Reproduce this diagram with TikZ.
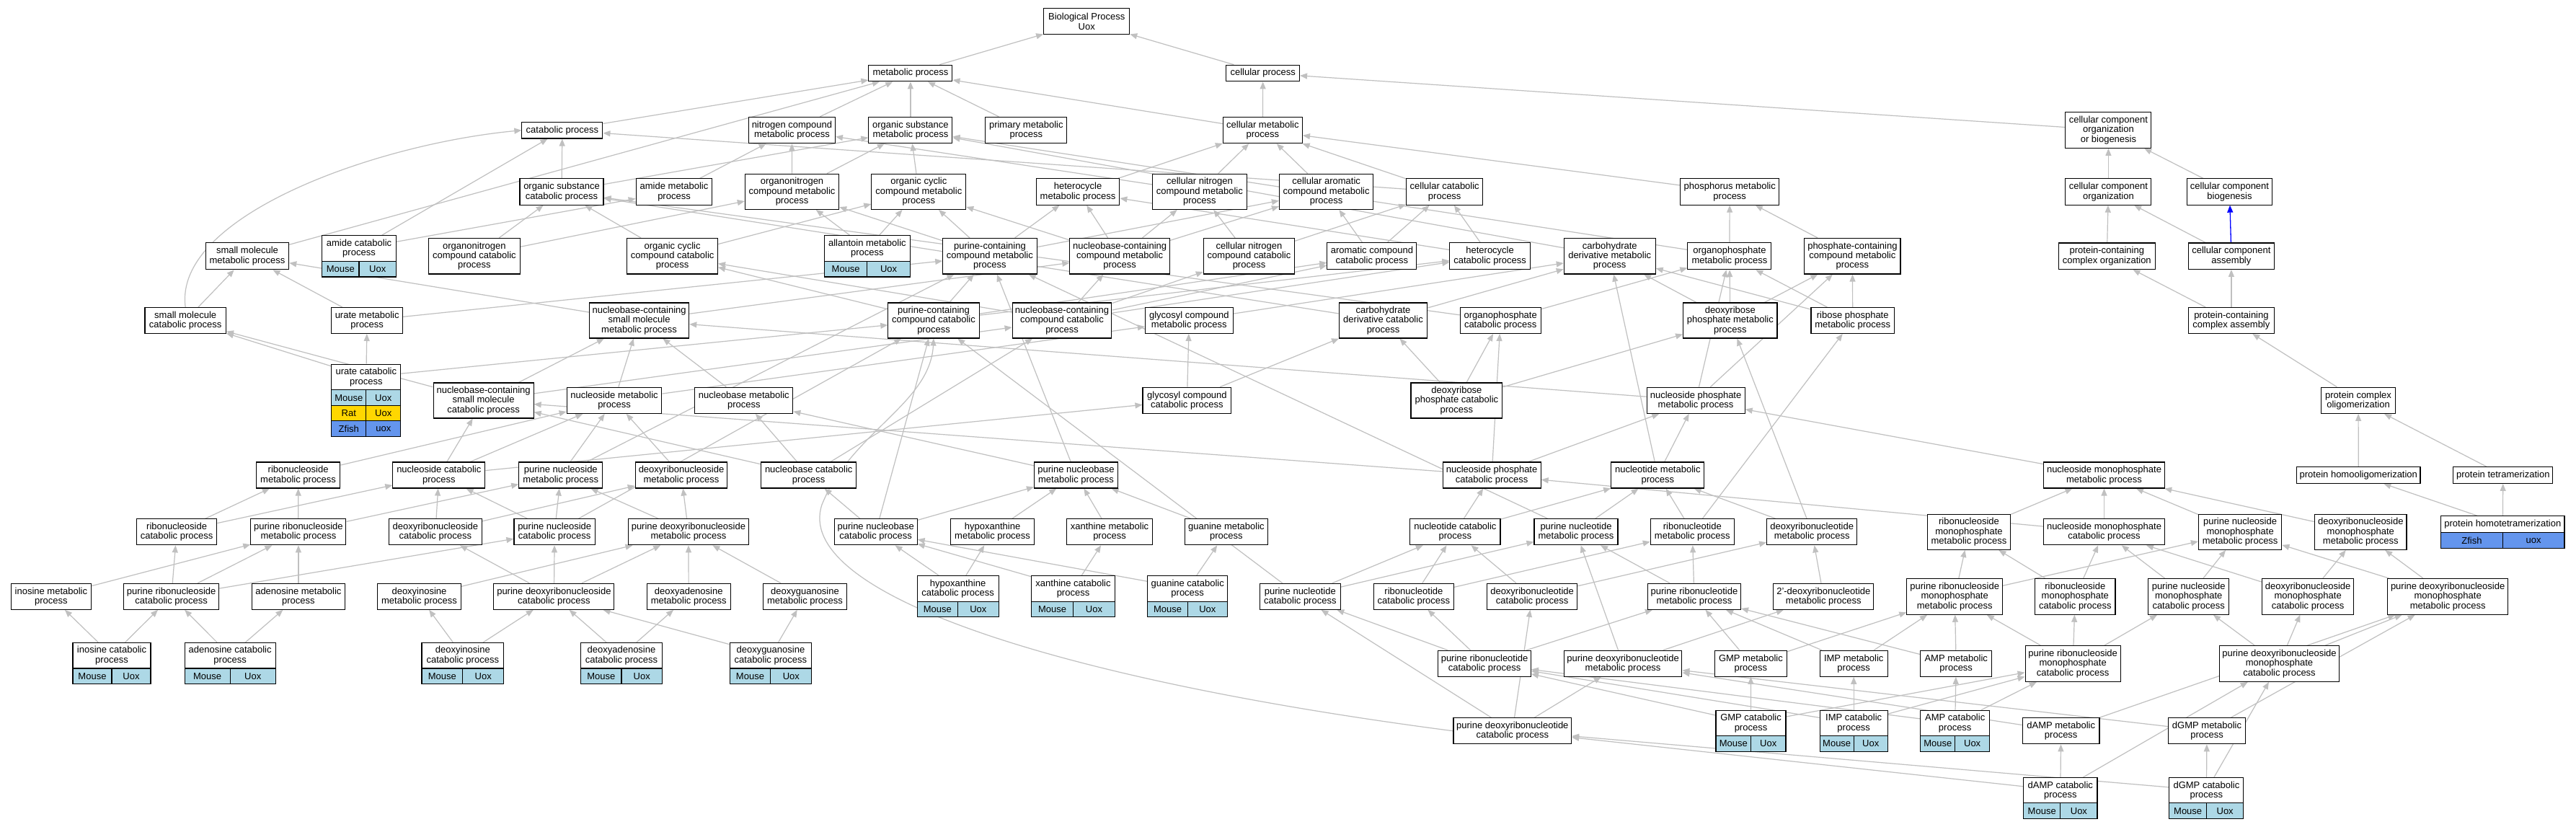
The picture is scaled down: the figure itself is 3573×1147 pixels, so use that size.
\documentclass[tikz,border=0pt]{standalone}
\usepackage{fontspec}
\setmainfont{Liberation Sans}
\usetikzlibrary{arrows.meta}
\pgfdeclarelayer{bg}
\pgfsetlayers{bg,main}
\newcommand\gofont{\fontsize{13}{13.3}\selectfont}
\definecolor{edgegray}{HTML}{C0C0C0}
\definecolor{mouseblue}{HTML}{ADD8E6}
\definecolor{ratgold}{HTML}{FFD700}
\definecolor{fishblue}{HTML}{6495ED}
\tikzset{
  gbox/.style={draw=black,line width=1.1pt,fill=white,font=\gofont,align=center,inner sep=0pt},
  cell/.style={draw=black,line width=1.1pt,font=\gofont,inner sep=0pt,minimum height=21.4pt},
  edge/.style={draw=edgegray,line width=1.2pt,-{Triangle[length=10pt,width=8pt]}},
  blueedge/.style={draw=blue,line width=1.3pt,-{Triangle[length=10pt,width=8pt]}}
}
\newcommand\gn[6]{\node[gbox,minimum width=#4pt,minimum height=#5pt] (#1) at (#2,#3) {#6};}
\newcommand\grow[7]{%
\node[cell,fill=#5,minimum width={#4*0.5pt}] (#1l) at ({#2-#4/4},{#3+10.7}) {#6};
\node[cell,fill=#5,minimum width={#4*0.5pt}] (#1r) at ({#2+#4/4},{#3+10.7}) {#7};}
\begin{document}
\begin{tikzpicture}[x=1pt,y=-1pt]
\useasboundingbox (0,0) rectangle (3573,1147);
% rank 0-1
\gn{bp}{1507.2}{29.8}{119}{36}{Biological Process\\Uox}
\gn{met}{1262.9}{101.5}{116}{22.6}{metabolic process}
\gn{cellp}{1751.7}{101.5}{101.6}{22.6}{cellular process}
% rank 2
\gn{cat}{779.9}{180.7}{112}{22.6}{catabolic process}
\gn{ncm}{1098.4}{180.5}{120}{36.3}{nitrogen compound\\metabolic process}
\gn{osm}{1262.9}{180.5}{116}{36.3}{organic substance\\metabolic process}
\gn{pm}{1423.3}{180.5}{113}{36.3}{primary metabolic\\process}
\gn{cm}{1751.4}{180.5}{110}{36.3}{cellular metabolic\\process}
\gn{ccob}{2924.4}{180.5}{119}{49.6}{cellular component\\organization\\or biogenesis}
% rank 3
\gn{osc}{779}{266}{116}{36.3}{organic substance\\catabolic process}
\gn{amm}{935}{266}{105.6}{36.3}{amide metabolic\\process}
\gn{onm}{1098.5}{265.8}{130.3}{49.2}{organonitrogen\\compound metabolic\\process}
\gn{occm}{1274.3}{265.8}{130.9}{49.2}{organic cyclic\\compound metabolic\\process}
\gn{hetm}{1495.1}{266}{115.4}{36.3}{heterocycle\\metabolic process}
\gn{cncm}{1663.9}{265.8}{130.3}{49.2}{cellular nitrogen\\compound metabolic\\process}
\gn{cacm}{1839.6}{265.8}{130.3}{49.2}{cellular aromatic\\compound metabolic\\process}
\gn{ccat}{2003.7}{266}{106.2}{36.3}{cellular catabolic\\process}
\gn{phm}{2399.2}{266}{137.2}{36.3}{phosphorus metabolic\\process}
\gn{cco}{2924.4}{266}{119}{36.3}{cellular component\\organization}
\gn{ccb}{3092.5}{266}{118.4}{36.3}{cellular component\\biogenesis}
% rank 4
\gn{smm}{343}{355.2}{115.4}{37}{small molecule\\metabolic process}
\gn{amc}{498}{344.6}{102.8}{35.9}{amide catabolic\\process}
\grow{amcA}{498}{362.6}{102.8}{mouseblue}{Mouse}{Uox}
\gn{onc}{657.9}{355.2}{126.3}{49.6}{organonitrogen\\compound catabolic\\process}
\gn{occc}{932.6}{355.2}{125.7}{49.6}{organic cyclic\\compound catabolic\\process}
\gn{allm}{1202.9}{344.6}{118.8}{35.9}{allantoin metabolic\\process}
\grow{allmA}{1202.9}{362.6}{118.8}{mouseblue}{Mouse}{Uox}
\gn{pccm}{1372.9}{355.2}{130.3}{49.6}{purine-containing\\compound metabolic\\process}
\gn{nbcm}{1553.1}{355.2}{138.4}{49.6}{nucleobase-containing\\compound metabolic\\process}
\gn{cncc}{1732.5}{355.2}{126.3}{49.6}{cellular nitrogen\\compound catabolic\\process}
\gn{acc}{1902.9}{355.2}{124}{37}{aromatic compound\\catabolic process}
\gn{hetc}{2066.6}{355.2}{111.4}{37}{heterocycle\\catabolic process}
\gn{cdm}{2232.7}{355.2}{126.9}{49.6}{carbohydrate\\derivative metabolic\\process}
\gn{opm}{2398.9}{355.2}{116}{37}{organophosphate\\metabolic process}
\gn{pcm}{2569.4}{355.2}{133.2}{49.6}{phosphate-containing\\compound metabolic\\process}
\gn{pcco}{2922.3}{355.2}{133.9}{36.3}{protein-containing\\complex organization}
\gn{cca}{3094.9}{355.2}{118.4}{36.3}{cellular component\\assembly}
% rank 5
\gn{smc}{257.2}{444.5}{112.5}{35.9}{small molecule\\catabolic process}
\gn{urm}{509.2}{444.5}{98.7}{35.9}{urate metabolic\\process}
\gn{nbsmm}{886.6}{444.5}{138.3}{49}{nucleobase-containing\\small molecule\\metabolic process}
\gn{pccc}{1295}{444.5}{126.3}{49}{purine-containing\\compound catabolic\\process}
\gn{nbcc}{1473}{444.5}{137.8}{49}{nucleobase-containing\\compound catabolic\\process}
\gn{gcm}{1649.3}{444.5}{121.7}{35.9}{glycosyl compound\\metabolic process}
\gn{cdc}{1918.5}{444.5}{122.8}{49}{carbohydrate\\derivative catabolic\\process}
\gn{opc}{2081.2}{444.5}{112}{35.9}{organophosphate\\catabolic process}
\gn{drpm}{2399.8}{444.5}{130.3}{49}{deoxyribose\\phosphate metabolic\\process}
\gn{rpm}{2569.7}{444.5}{115.4}{35.9}{ribose phosphate\\metabolic process}
\gn{pcca}{3094.9}{444.5}{118.4}{35.9}{protein-containing\\complex assembly}
% rank 6
\gn{urc}{507.8}{523}{95.9}{35.9}{urate catabolic\\process}
\grow{urcA}{507.8}{540.9}{95.9}{mouseblue}{Mouse}{Uox}
\grow{urcB}{507.8}{562.4}{95.9}{ratgold}{Rat}{Uox}
\grow{urcC}{507.8}{583.9}{95.9}{fishblue}{Zfish}{uox}
\gn{nbsmc}{670.6}{555.5}{139}{49}{nucleobase-containing\\small molecule\\catabolic process}
\gn{nsm}{852}{555.3}{131.6}{36.2}{nucleoside metabolic\\process}
\gn{nbm}{1031.8}{555.3}{136}{36.2}{nucleobase metabolic\\process}
\gn{gcc}{1646.4}{555.3}{122.8}{36.2}{glycosyl compound\\catabolic process}
\gn{drpc}{2020.4}{555.5}{126.9}{49}{deoxyribose\\phosphate catabolic\\process}
\gn{npm}{2352.1}{555.3}{136}{36.2}{nucleoside phosphate\\metabolic process}
\gn{pco}{3271}{555.3}{103}{36.2}{protein complex\\oligomerization}
% rank 7
\gn{rnsm}{413.6}{659}{116.5}{36}{ribonucleoside\\metabolic process}
\gn{nsc}{608.8}{659}{128}{36}{nucleoside catabolic\\process}
\gn{pnsm}{777.8}{659}{116}{36}{purine nucleoside\\metabolic process}
\gn{dnsm}{945}{659}{127.5}{36}{deoxyribonucleoside\\metabolic process}
\gn{nbc}{1121.7}{659}{132}{36}{nucleobase catabolic\\process}
\gn{pnbm}{1492.5}{659}{116}{36}{purine nucleobase\\metabolic process}
\gn{npc}{2069.1}{659}{136}{36}{nucleoside phosphate\\catabolic process}
\gn{ntm}{2299.3}{659}{129.2}{36}{nucleotide metabolic\\process}
\gn{nmpm}{2918.5}{659}{167.8}{36}{nucleoside monophosphate\\metabolic process}
\gn{phom}{3271.3}{659}{171.4}{22.8}{protein homooligomerization}
\gn{ptet}{3471.8}{659}{138}{22.8}{protein tetramerization}
% rank 8
\gn{rnsc}{245.1}{737.8}{111.4}{36}{ribonucleoside\\catabolic process}
\gn{prnsm}{413.9}{737.8}{132}{36}{purine ribonucleoside\\metabolic process}
\gn{dnsc}{603.9}{737.8}{128.6}{36}{deoxyribonucleoside\\catabolic process}
\gn{pnsc}{769.2}{737.8}{112.5}{36}{purine nucleoside\\catabolic process}
\gn{pdnsm}{954.9}{737.8}{167}{36}{purine deoxyribonucleoside\\metabolic process}
\gn{pnbc}{1214.7}{737.8}{114.8}{36}{purine nucleobase\\catabolic process}
\gn{hxm}{1376.6}{737.8}{116}{36}{hypoxanthine\\metabolic process}
\gn{xm}{1539}{737.8}{118.3}{36}{xanthine metabolic\\process}
\gn{gm}{1700.9}{737.8}{114.8}{36}{guanine metabolic\\process}
\gn{ntc}{2018.4}{737.8}{125.1}{36}{nucleotide catabolic\\process}
\gn{pntm}{2186}{737.8}{116}{36}{purine nucleotide\\metabolic process}
\gn{rntm}{2347.3}{737.8}{116}{36}{ribonucleotide\\metabolic process}
\gn{dntm}{2513.2}{737.8}{125.1}{36}{deoxyribonucleotide\\metabolic process}
\gn{rnmpm}{2731}{737.8}{115.4}{49.3}{ribonucleoside\\monophosphate\\metabolic process}
\gn{nmpc}{2918.5}{737.8}{167.8}{36}{nucleoside monophosphate\\catabolic process}
\gn{pnmpm}{3107.1}{737.8}{115.4}{49.3}{purine nucleoside\\monophosphate\\metabolic process}
\gn{dnmpm}{3274.3}{737.8}{127.3}{49.3}{deoxyribonucleoside\\monophosphate\\metabolic process}
\gn{phtet}{3471.3}{727.3}{171.4}{23.2}{protein homotetramerization}
\grow{phtetA}{3471.3}{738.9}{171.4}{fishblue}{Zfish}{uox}
% rank 9
\gn{inom}{70.9}{827.3}{110.8}{36}{inosine metabolic\\process}
\gn{prnsc}{237.7}{827.3}{132}{36}{purine ribonucleoside\\catabolic process}
\gn{adom}{413.9}{827.3}{129.7}{36}{adenosine metabolic\\process}
\gn{dinom}{581.5}{827.3}{116}{36}{deoxyinosine\\metabolic process}
\gn{pdnsc}{768.4}{827.3}{167}{36}{purine deoxyribonucleoside\\catabolic process}
\gn{dadom}{955.2}{827.3}{116}{36}{deoxyadenosine\\metabolic process}
\gn{dguom}{1116.5}{827.3}{116}{36}{deoxyguanosine\\metabolic process}
\gn{hxc}{1328.6}{816.4}{113}{35.7}{hypoxanthine\\catabolic process}
\grow{hxcA}{1328.6}{834.2}{113}{mouseblue}{Mouse}{Uox}
\gn{xc}{1488.5}{816.4}{116}{35.7}{xanthine catabolic\\process}
\grow{xcA}{1488.5}{834.2}{116}{mouseblue}{Mouse}{Uox}
\gn{gc}{1647.2}{816.4}{110.8}{35.7}{guanine catabolic\\process}
\grow{gcA}{1647.2}{834.2}{110.8}{mouseblue}{Mouse}{Uox}
\gn{pntc}{1803.3}{827.3}{112}{36}{purine nucleotide\\catabolic process}
\gn{rntc}{1960.9}{827.3}{111.4}{36}{ribonucleotide\\catabolic process}
\gn{dntc}{2125.1}{827.3}{125.1}{36}{deoxyribonucleotide\\catabolic process}
\gn{prntm}{2349.9}{827.3}{129.2}{36}{purine ribonucleotide\\metabolic process}
\gn{dtwontm}{2529.3}{827.3}{138.9}{36}{2{\char"0027}-deoxyribonucleotide\\metabolic process}
\gn{prnmpm}{2711.2}{827.4}{132.7}{49.6}{purine ribonucleoside\\monophosphate\\metabolic process}
\gn{rnmpc}{2878.3}{827.4}{111.3}{49.6}{ribonucleoside\\monophosphate\\catabolic process}
\gn{pnmpc}{3035.7}{827.4}{111.8}{49.6}{purine nucleoside\\monophosphate\\catabolic process}
\gn{dnmpc}{3201.1}{827.4}{127.3}{49.6}{deoxyribonucleoside\\monophosphate\\catabolic process}
\gn{pdnmpm}{3395.1}{827.4}{166.6}{49.6}{purine deoxyribonucleoside\\monophosphate\\metabolic process}
% rank 10
\gn{inoc}{155}{909.2}{108}{35.7}{inosine catabolic\\process}
\grow{inocA}{155}{927}{108}{mouseblue}{Mouse}{Uox}
\gn{adoc}{319.2}{909.2}{126.3}{35.7}{adenosine catabolic\\process}
\grow{adocA}{319.2}{927}{126.3}{mouseblue}{Mouse}{Uox}
\gn{dinoc}{641.8}{909.2}{113.6}{35.7}{deoxyinosine\\catabolic process}
\grow{dinocA}{641.8}{927}{113.6}{mouseblue}{Mouse}{Uox}
\gn{dadoc}{862}{909.2}{113}{35.7}{deoxyadenosine\\catabolic process}
\grow{dadocA}{862}{927}{113}{mouseblue}{Mouse}{Uox}
\gn{dguoc}{1068.9}{909.2}{113.7}{35.7}{deoxyguanosine\\catabolic process}
\grow{dguocA}{1068.9}{927}{113.7}{mouseblue}{Mouse}{Uox}
\gn{prntc}{2059.1}{920.3}{128.6}{36}{purine ribonucleotide\\catabolic process}
\gn{pdntm}{2251.1}{920.3}{163.6}{36}{purine deoxyribonucleotide\\metabolic process}
\gn{gmpm}{2428.4}{920.3}{99.3}{36}{GMP metabolic\\process}
\gn{impm}{2571.2}{920.3}{94.1}{36}{IMP metabolic\\process}
\gn{ampm}{2713.2}{920.3}{98.8}{36}{AMP metabolic\\process}
\gn{prnmpc}{2875.1}{920.5}{132.1}{49.7}{purine ribonucleoside\\monophosphate\\catabolic process}
\gn{pdnmpc}{3161.5}{920.5}{166}{49.7}{purine deoxyribonucleoside\\monophosphate\\catabolic process}
% rank 11
\gn{pdntc}{2097.8}{1013.8}{163.6}{36}{purine deoxyribonucleotide\\catabolic process}
\gn{gmpc}{2428.5}{1003}{97}{35.7}{GMP catabolic\\process}
\grow{gmpcA}{2428.5}{1020.8}{97}{mouseblue}{Mouse}{Uox}
\gn{impc}{2571.2}{1003}{94.1}{35.7}{IMP catabolic\\process}
\grow{impcA}{2571.2}{1020.8}{94.1}{mouseblue}{Mouse}{Uox}
\gn{ampc}{2711.7}{1003}{95.8}{35.7}{AMP catabolic\\process}
\grow{ampcA}{2711.7}{1020.8}{95.8}{mouseblue}{Mouse}{Uox}
\gn{dampm}{2858.7}{1013.8}{106.5}{36}{dAMP metabolic\\process}
\gn{dgmpm}{3061}{1013.8}{106.5}{36}{dGMP metabolic\\process}
% rank 12
\gn{dampc}{2857.8}{1096.3}{102.4}{35.3}{dAMP catabolic\\process}
\grow{dampcA}{2857.8}{1113.9}{102.4}{mouseblue}{Mouse}{Uox}
\gn{dgmpc}{3060.4}{1096.3}{103}{35.3}{dGMP catabolic\\process}
\grow{dgmpcA}{3060.4}{1113.9}{103}{mouseblue}{Mouse}{Uox}
% edges
\begin{pgfonlayer}{bg}
\fill[white] (0,0) rectangle (3573,1147);
\foreach \c/\p in {met/bp,cellp/bp,cat/met,ncm/met,osm/met,pm/met,cm/met,smm/met,cm/cellp,ccob/cellp,
osc/cat,osc/osm,amm/ncm,onm/ncm,onm/osm,occm/osm,hetm/cm,cncm/cm,cncm/ncm,cacm/cm,ccat/cm,ccat/cat,phm/cm,
cco/ccob,ccb/ccob,amc/amm,amc/cat,onc/onm,onc/osc,occc/occm,occc/osc,allm/onm,allm/occm,
pccm/occm,pccm/hetm,pccm/onm,pccm/cacm,nbcm/hetm,nbcm/cncm,nbcm/cacm,nbcm/occm,
cncc/cncm,cncc/ccat,acc/cacm,acc/ccat,hetc/hetm,hetc/ccat,cdm/osm,opm/phm,opm/osm,pcm/phm,
pcco/cco,cca/cco,pcca/pcco,pcca/cca,smc/smm,urm/smm,urm/pccm,nbsmm/smm,nbsmm/nbcm,
pccc/pccm,pccc/hetc,pccc/acc,pccc/occc,nbcc/nbcm,nbcc/cncc,nbcc/hetc,nbcc/acc,nbcc/occc,
gcm/cdm,cdc/cdm,cdc/osc,opc/opm,opc/osc,drpm/cdm,drpm/opm,drpm/pcm,rpm/cdm,rpm/opm,rpm/pcm,
urc/urm,urc/smc,urc/pccc,nbsmc/smc,nbsmc/nbsmm,nbsmc/nbcc,nsm/nbsmm,nsm/gcm,nbm/nbsmm,
gcc/gcm,gcc/cdc,drpc/drpm,drpc/opc,drpc/cdc,npm/opm,npm/pcm,npm/nbsmm,pco/pcca,
rnsm/nsm,nsc/nsm,nsc/gcc,nsc/nbsmc,pnsm/nsm,pnsm/pccm,dnsm/nsm,nbc/nbm,nbc/nbsmc,nbc/nbcc,
pnbm/nbm,pnbm/pccm,npc/npm,npc/opc,npc/nbsmc,ntm/npm,ntm/cdm,nmpm/npm,phom/pco,ptet/pco,
rnsc/rnsm,rnsc/nsc,prnsm/rnsm,prnsm/pnsm,dnsc/dnsm,dnsc/nsc,pnsc/pnsm,pnsc/nsc,pnsc/pccc,
pdnsm/dnsm,pdnsm/pnsm,pnbc/pnbm,pnbc/nbc,pnbc/pccc,hxm/pnbm,xm/pnbm,gm/pnbm,
ntc/npc,ntc/ntm,pntm/ntm,pntm/pccm,rntm/ntm,rntm/rpm,dntm/ntm,dntm/drpm,
rnmpm/nmpm,nmpc/nmpm,nmpc/npc,pnmpm/nmpm,dnmpm/nmpm,phtet/phom,phtet/ptet,
inom/prnsm,prnsc/rnsc,prnsc/prnsm,prnsc/pnsc,adom/prnsm,dinom/pdnsm,pdnsc/dnsc,pdnsc/pnsc,pdnsc/pdnsm,
dadom/pdnsm,dguom/pdnsm,hxc/hxm,hxc/pnbc,xc/xm,xc/pnbc,gc/gm,gc/pnbc,
pntc/pntm,pntc/ntc,pntc/pccc,rntc/ntc,rntc/rntm,dntc/ntc,dntc/dntm,prntm/pntm,prntm/rntm,dtwontm/dntm,
prnmpm/rnmpm,prnmpm/pnmpm,rnmpc/rnmpm,rnmpc/nmpc,pnmpc/pnmpm,pnmpc/nmpc,dnmpc/dnmpm,dnmpc/nmpc,
pdnmpm/dnmpm,pdnmpm/pnmpm,inoc/inom,inoc/prnsc,adoc/adom,adoc/prnsc,dinoc/dinom,dinoc/pdnsc,
dadoc/dadom,dadoc/pdnsc,dguoc/dguom,dguoc/pdnsc,prntc/pntc,prntc/rntc,prntc/prntm,pdntm/pntm,pdntm/dtwontm,
gmpm/prntm,gmpm/prnmpm,impm/prntm,impm/prnmpm,ampm/prnmpm,ampm/prntm,
prnmpc/prnmpm,prnmpc/rnmpc,prnmpc/pnmpc,pdnmpc/pnmpc,pdnmpc/dnmpc,pdnmpc/pdnmpm,
pdntc/pdntm,pdntc/pntc,pdntc/dntc,gmpc/gmpm,gmpc/prntc,gmpc/prnmpc,impc/impm,impc/prntc,impc/prnmpc,
ampc/ampm,ampc/prntc,ampc/prnmpc,dampm/pdnmpm,dampm/pdntm,dgmpm/pdnmpm,dgmpm/pdntm,
dampc/dampm,dampc/pdnmpc,dampc/pdntc,dgmpc/dgmpm,dgmpc/pdnmpc,dgmpc/pdntc}
  \draw[edge] (\c) -- (\p);
\draw[edge] (smc.north) .. controls (240,300) and (520,200) .. (cat.west);
\draw[edge] (pdntc.west) .. controls (1450,940) and (1100,820) .. (1140,700) .. controls (1180,600) and (1290,560) .. (pccc.south);
\draw[blueedge] (cca) -- (ccb);
\end{pgfonlayer}
\end{tikzpicture}
\end{document}
